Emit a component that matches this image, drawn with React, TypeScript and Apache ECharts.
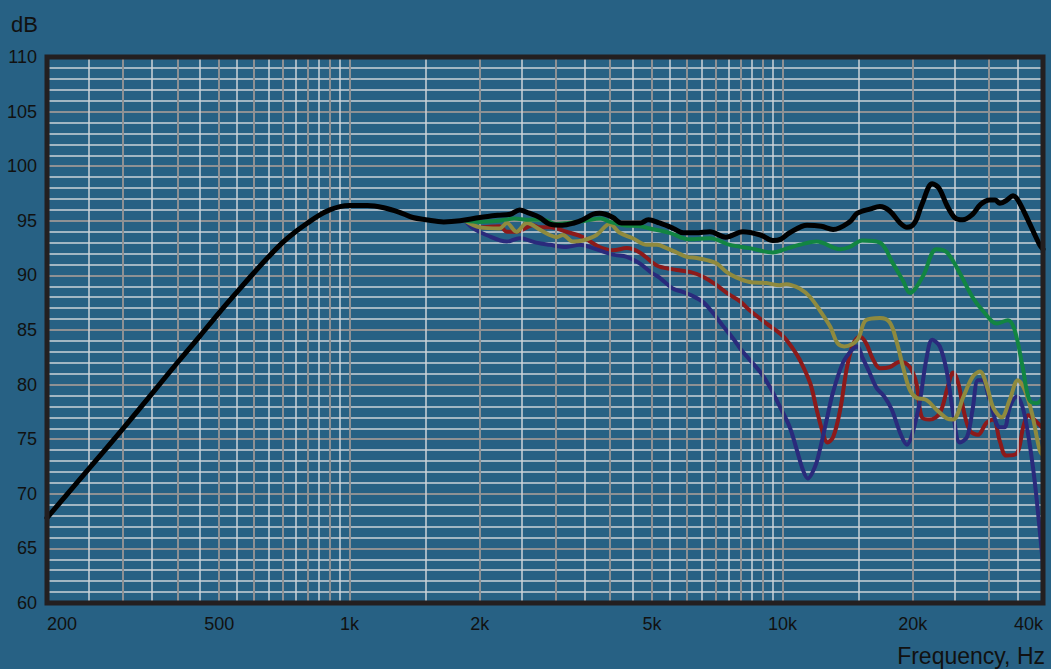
import React, { useEffect, useRef } from "react";
import * as echarts from "echarts";

// Frequency (Hz), level (dB) pairs
const onAxis: [number, number][] = [
  [200, 67.8], [250, 72.3], [300, 76.0], [350, 79.2], [400, 82.0], [450, 84.4], [500, 86.6],
  [550, 88.5], [600, 90.2], [650, 91.7], [700, 93.0], [750, 94.0], [800, 94.8], [850, 95.5],
  [900, 96.0], [950, 96.3], [1000, 96.4], [1100, 96.4], [1200, 96.2], [1300, 95.8], [1400, 95.3],
  [1500, 95.1], [1650, 94.9], [1800, 95.0], [2000, 95.3], [2200, 95.5], [2350, 95.6], [2470, 96.0],
  [2600, 95.7], [2750, 95.3], [2900, 94.7], [3100, 94.6], [3300, 94.8], [3460, 95.1], [3650, 95.6],
  [3780, 95.7], [3900, 95.6], [4060, 95.3], [4250, 94.8], [4500, 94.8], [4700, 94.8], [4900, 95.1],
  [5200, 94.8], [5600, 94.3], [5900, 93.9], [6300, 93.9], [6800, 94.0], [7400, 93.5], [8100, 94.0],
  [8900, 93.7], [9500, 93.2], [9900, 93.3], [10400, 93.9], [11400, 94.6], [12300, 94.5], [13100, 94.2],
  [14300, 94.9], [14900, 95.7], [16000, 96.1], [16800, 96.3], [17700, 95.9], [18700, 94.8], [19400, 94.4],
  [20200, 94.8], [21000, 96.5], [22200, 98.4], [23000, 98.0], [24000, 96.4], [25000, 95.3], [26100, 95.1],
  [27500, 95.6], [28700, 96.5], [30100, 96.9], [31000, 96.9], [31800, 96.6], [33000, 96.9], [34100, 97.3],
  [35000, 96.9], [37000, 95.0], [39300, 92.8], [40000, 92.4],
];

const green: [number, number][] = [
  [1850, 95.0], [2000, 94.9], [2200, 95.0], [2400, 95.2], [2600, 95.1], [2800, 95.1], [3000, 94.7],
  [3200, 94.8], [3500, 95.0], [3800, 95.2], [4000, 94.9], [4300, 94.6], [4700, 94.5], [4940, 94.3],
  [5490, 93.9], [6100, 93.3], [6790, 93.4], [7560, 92.8], [8400, 92.5], [9500, 92.1], [10300, 92.5],
  [10960, 92.8], [12000, 93.1], [13600, 92.4], [14300, 92.6], [15300, 93.2], [16800, 93.0], [18000, 91.1],
  [19000, 89.5], [19700, 88.4], [21100, 89.9], [22700, 92.4], [24000, 92.1], [25700, 90.2], [27500, 88.0],
  [29000, 86.8], [31300, 85.6], [33200, 85.9], [34400, 85.0], [35900, 81.6], [37200, 78.6], [38700, 78.3],
  [40000, 78.8],
];

const red: [number, number][] = [
  [1850, 95.0], [2000, 94.4], [2220, 94.5], [2310, 94.0], [2430, 94.0], [2570, 94.4], [2650, 94.6],
  [2750, 94.4], [2900, 94.4], [3170, 94.0], [3460, 93.5], [3780, 92.6], [4060, 92.3], [4370, 92.5],
  [4680, 92.1], [5000, 91.2], [5200, 90.8], [5700, 90.5], [6140, 90.3], [6540, 89.9], [7050, 89.1],
  [7500, 88.3], [8000, 87.6], [8400, 86.8], [9180, 85.6], [10000, 84.5], [10570, 83.3], [10960, 82.3],
  [11600, 80.1], [12000, 77.7], [12400, 75.6], [12700, 74.7], [13100, 75.2], [13600, 77.7], [14100, 81.6],
  [14600, 83.8], [15100, 84.4], [15600, 83.8], [16200, 82.3], [16800, 81.5], [17700, 81.6], [18700, 82.1],
  [19700, 81.6], [20400, 80.1], [21000, 77.0], [21900, 76.8], [23100, 77.4], [24100, 79.8], [24800, 81.1],
  [25500, 80.1], [26200, 77.7], [27100, 75.8], [28300, 75.4], [29600, 76.5], [30700, 76.8], [31800, 74.8],
  [32900, 73.5], [34800, 73.7], [36000, 76.1], [37000, 77.2], [37900, 76.9], [40000, 76.0],
];

const olive: [number, number][] = [
  [1850, 95.0], [2000, 94.4], [2220, 94.3], [2310, 94.8], [2430, 94.0], [2570, 94.8], [2750, 94.2],
  [2900, 93.7], [3010, 93.5], [3110, 93.7], [3280, 93.1], [3460, 93.2], [3720, 93.7], [3990, 94.7],
  [4210, 93.9], [4510, 93.4], [4860, 92.8], [5130, 92.8], [5400, 92.5], [5700, 92.1], [6010, 91.7],
  [6340, 91.6], [6690, 91.4], [7050, 91.1], [7440, 90.3], [7840, 89.8], [8400, 89.4], [9180, 89.3],
  [9860, 89.1], [10200, 89.2], [10960, 88.8], [11600, 88.0], [12200, 86.8], [12900, 85.3], [13400, 83.8],
  [13900, 83.5], [14900, 84.1], [15600, 85.9], [16800, 86.1], [17700, 85.7], [18400, 83.8], [19000, 81.6],
  [19700, 79.5], [20400, 78.8], [21500, 78.6], [22700, 77.7], [24000, 76.9], [24800, 76.8], [26200, 78.9],
  [27500, 80.7], [28600, 81.2], [29700, 79.8], [30700, 77.9], [32100, 77.0], [33500, 78.6], [35000, 80.4],
  [36300, 79.5], [37700, 77.4], [39300, 74.0], [40000, 73.5],
];

const blue: [number, number][] = [
  [1850, 95.0], [1930, 94.3], [2070, 93.7], [2310, 93.1], [2470, 93.4], [2700, 93.0], [2900, 92.8],
  [3170, 92.6], [3400, 92.8], [3650, 92.5], [4060, 91.9], [4370, 91.7], [4680, 91.1], [5000, 90.2],
  [5200, 89.8], [5580, 88.8], [5880, 88.5], [6140, 88.2], [6540, 87.6], [6900, 86.6], [7280, 85.4],
  [7700, 84.2], [8100, 83.0], [8870, 81.2], [9350, 79.8], [9860, 78.0], [10400, 76.1], [10800, 74.0],
  [11150, 72.2], [11450, 71.4], [11900, 72.5], [12200, 74.0], [12660, 76.8], [13070, 79.2], [13800, 82.0],
  [14500, 83.2], [14900, 83.5], [15300, 82.5], [15900, 81.1], [16500, 79.7], [17200, 78.9], [17900, 77.7],
  [18700, 75.6], [19400, 74.5], [20000, 75.6], [20800, 78.6], [21500, 82.3], [22200, 84.1], [23100, 83.5],
  [24000, 81.1], [24800, 77.4], [25700, 74.7], [26700, 75.2], [27500, 77.7], [28300, 80.4], [29000, 80.4],
  [30100, 78.6], [31800, 76.1], [32600, 76.1], [33500, 77.9], [34800, 78.9], [35900, 77.9], [36900, 75.6],
  [37900, 72.5], [38700, 69.4], [40000, 63.5],
];

const xTickValues = [200, 500, 1000, 2000, 5000, 10000, 20000, 40000];

// vertical grid positions (Hz): whole steps (darker) and half steps (lighter) in each decade
const gridMajor = [300, 400, 500, 600, 700, 800, 900, 1000, 2000, 3000, 4000, 5000, 6000, 7000, 8000, 9000, 10000, 20000, 30000];
const gridMinor = [250, 350, 450, 550, 650, 750, 850, 950, 1500, 2500, 3500, 4500, 5500, 6500, 7500, 8500, 9500, 15000, 25000, 35000];

const BG = "#276184";
const LIGHT = "#cdd3d8";
const GRAY = "#8e9194";
const FONT = "'Liberation Sans', Arial, sans-serif";

export default function App() {
  const ref = useRef<HTMLDivElement>(null);
  useEffect(() => {
    if (!ref.current) return;
    const chart = echarts.init(ref.current, null, { renderer: "svg" });
    const lineSeries = (name: string, data: [number, number][], color: string, width: number, z: number) => ({
      name,
      type: "line",
      data,
      showSymbol: false,
      symbol: "none",
      smooth: 0.35,
      z,
      lineStyle: { color, width, cap: "round", join: "round" },
      emphasis: { disabled: true },
      silent: true,
    });
    const markData = [
      ...gridMinor.map((f) => ({ xAxis: f, lineStyle: { color: LIGHT, width: 1.5, type: "solid" } })),
      ...gridMajor.map((f) => ({ xAxis: f, lineStyle: { color: GRAY, width: 2, type: "solid" } })),
    ];
    chart.setOption({
      animation: false,
      backgroundColor: BG,
      textStyle: { fontFamily: FONT },
      grid: {
        left: 47,
        right: 8,
        top: 57,
        bottom: 66,
        show: true,
        borderColor: "#231f20",
        borderWidth: 5,
        backgroundColor: "transparent",
        z: 10,
      },
      xAxis: {
        type: "log",
        logBase: 10,
        min: 200,
        max: 40000,
        name: "Frequency, Hz",
        nameLocation: "end",
        nameGap: 2,
        nameTextStyle: {
          color: "#111",
          fontSize: 23,
          fontFamily: FONT,
          align: "right",
          verticalAlign: "top",
          padding: [41, 0, 0, 0],
        },
        axisLine: { show: false },
        axisTick: { show: false },
        splitLine: { show: false },
        minorSplitLine: { show: false },
        axisLabel: {
          customValues: xTickValues,
          color: "#111",
          fontSize: 18,
          fontFamily: FONT,
          margin: 12,
          alignMinLabel: "left",
          alignMaxLabel: "right",
          formatter: (v: number) => (v >= 1000 ? `${Math.round(v / 1000)}k` : `${v}`),
        },
      },
      yAxis: [
        {
          type: "value",
          min: 60,
          max: 110,
          interval: 1,
          position: "left",
          axisLine: { show: false },
          axisTick: { show: false },
          axisLabel: { show: false },
          splitLine: { show: true, lineStyle: { color: [GRAY, LIGHT, LIGHT, LIGHT, LIGHT], width: 1.5 } },
        },
        {
          type: "value",
          min: 60,
          max: 110,
          interval: 5,
          position: "left",
          name: "dB",
          nameLocation: "end",
          nameGap: 22,
          nameTextStyle: { color: "#111", fontSize: 22, fontFamily: FONT, align: "right", padding: [0, 9, 0, 0] },
          axisLine: { show: false },
          axisTick: { show: false },
          axisLabel: { color: "#111", fontSize: 18, fontFamily: FONT, margin: 10 },
          splitLine: { show: true, lineStyle: { color: GRAY, width: 2 } },
        },
      ],
      series: [
        {
          name: "grid",
          type: "line",
          data: [],
          z: 1,
          silent: true,
          markLine: {
            silent: true,
            symbol: ["none", "none"],
            label: { show: false },
            emphasis: { disabled: true },
            animation: false,
            data: markData,
          },
        },
        lineSeries("red", red, "#8c1a1a", 4, 3),
        lineSeries("blue", blue, "#2a2a7c", 4, 4),
        lineSeries("olive", olive, "#8f8a3e", 4, 5),
        lineSeries("green", green, "#128542", 4, 6),
        lineSeries("on-axis", onAxis, "#000000", 5, 7),
      ],
    });
    return () => chart.dispose();
  }, []);
  return <div ref={ref} style={{ position: "absolute", left: 0, top: 0, width: 1051, height: 669 }} />;
}
